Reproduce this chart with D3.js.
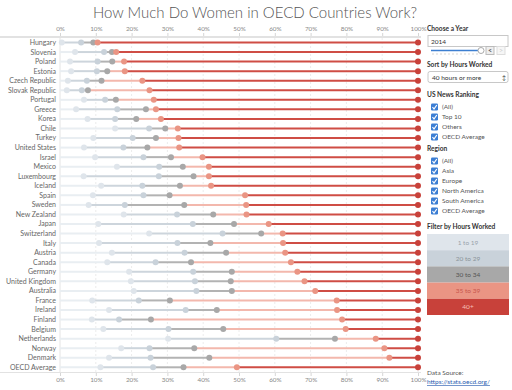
<!DOCTYPE html>
<html lang="en">
<head>
<meta charset="UTF-8">
<title>How Much Do Women in OECD Countries Work?</title>
<style>
  body { margin: 0; background: #fff; }
  svg { display: block; font-family: "Lato", "Open Sans", sans-serif; }
</style>
</head>
<body>
<div id="chart"></div>
<script src="https://d3js.org/d3.v7.min.js"></script>
<script>
// countries, top to bottom (sorted by share working 40 hours or more)
const countries = ["Hungary", "Slovenia", "Poland", "Estonia", "Czech Republic", "Slovak Republic",
  "Portugal", "Greece", "Korea", "Chile", "Turkey", "United States", "Israel", "Mexico",
  "Luxembourg", "Iceland", "Spain", "Sweden", "New Zealand", "Japan", "Switzerland", "Italy",
  "Austria", "Canada", "Germany", "United Kingdom", "Australia", "France", "Ireland", "Finland",
  "Belgium", "Netherlands", "Norway", "Denmark", "OECD Average"];

// cumulative share of working women (%), by usual weekly hours
const upTo19 = [0.5, 4.2, 2.8, 3.1, 2.2, 1.9, 6.7, 4.5, 7.7, 15.4, 9.3, 6.7, 9.8, 15.9,
  6.6, 11.5, 9.2, 8.0, 17.8, 10.7, 24.9, 10.9, 14.5, 13.2, 19.3, 19.8, 20.6, 9.0, 13.7, 8.9,
  12.1, 30.2, 17.1, 13.7, 11.3];
const upTo29 = [5.9, 12.3, 10.5, 10.3, 7.5, 6.1, 12.6, 16.0, 15.4, 24.9, 20.3, 17.7, 23.3, 27.7,
  27.6, 23.0, 23.3, 18.1, 32.7, 37.1, 45.4, 32.8, 34.8, 26.7, 37.2, 37.7, 38.1, 22.0, 35.1, 16.5,
  30.3, 60.4, 25.0, 25.3, 26.0];
const upTo34 = [9.3, 14.5, 14.6, 13.2, 11.6, 7.8, 15.6, 24.0, 21.3, 29.4, 26.8, 24.4, 31.0, 34.3,
  37.3, 33.5, 30.6, 34.7, 42.8, 48.6, 56.2, 42.0, 46.4, 36.6, 48.0, 47.7, 48.0, 30.7, 43.8, 25.4,
  45.6, 76.8, 37.5, 41.7, 34.5];
const upTo39 = [10.5, 15.7, 17.9, 18.1, 23.0, 25.0, 26.2, 26.8, 28.2, 32.9, 33.1, 33.3, 39.8, 41.6,
  41.6, 42.2, 51.7, 52.0, 52.1, 58.3, 62.2, 62.3, 62.9, 64.5, 66.3, 68.3, 71.3, 77.3, 77.4, 78.8,
  79.8, 88.2, 90.6, 92.0, 49.4];
const allHours = countries.map(() => 100);

const bands = ["1 to 19", "20 to 29", "30 to 34", "35 to 39", "40+"];
const dotColors = ["#dfe5eb", "#c9d2da", "#a8a8a8", "#ea9584", "#c8413a"];
const lineColors = ["#e9eef2", "#cdd5dc", "#b3b3b3", "#f3b8ad", "#cf4d45"];
const bandText = ["#9aa3ab", "#8a9299", "#555555", "#c8564c", "#f6c0b8"];

const xTicks = [0, 10, 20, 30, 40, 50, 60, 70, 80, 90, 100];
const years = ["2014"];
const rankingOpts = ["(All)", "Top 10", "Others", "OECD Average"];
const regionOpts = ["(All)", "Asia", "Europe", "North America", "South America", "OECD Average"];

const W = 512, H = 390;
const svg = d3.select("#chart").append("svg").attr("width", W).attr("height", H);

// title
svg.append("text")
  .attr("x", 255).attr("y", 18)
  .attr("text-anchor", "middle")
  .attr("font-size", 15)
  .attr("font-weight", 300)
  .attr("fill", "#555")
  .text("How Much Do Women in OECD Countries Work?");

// scales
const x = d3.scaleLinear().domain([0, 100]).range([60, 418]);
const y = d3.scalePoint().domain(countries).range([42.5, 367.3]);

// axis band lines
svg.append("line").attr("x1", 0).attr("x2", 421).attr("y1", 37).attr("y2", 37)
  .attr("stroke", "#e2e2e2").attr("stroke-width", 2);
svg.append("line").attr("x1", 0).attr("x2", 421).attr("y1", 372.5).attr("y2", 372.5)
  .attr("stroke", "#e2e2e2").attr("stroke-width", 1);

// gridlines
svg.append("g").selectAll("line").data(xTicks.slice(1)).join("line")
  .attr("x1", d => x(d)).attr("x2", d => x(d))
  .attr("y1", 38).attr("y2", 372)
  .attr("stroke", "#ececec").attr("stroke-dasharray", "2,2");
svg.append("line").attr("x1", x(0)).attr("x2", x(0)).attr("y1", 38).attr("y2", 372)
  .attr("stroke", "#e4e4e4");

// top & bottom axes
const fmt = d => d + "%";
const topAxis = svg.append("g").attr("transform", "translate(0,36)")
  .call(d3.axisTop(x).tickValues(xTicks).tickFormat(fmt).tickSize(3).tickPadding(2));
const botAxis = svg.append("g").attr("transform", "translate(0,373)")
  .call(d3.axisBottom(x).tickValues(xTicks).tickFormat(fmt).tickSize(3).tickPadding(2));
[topAxis, botAxis].forEach(g => {
  g.select(".domain").remove();
  g.selectAll("line").attr("stroke", "#d6d6d6");
  g.selectAll("text").attr("fill", "#888").attr("font-size", 6.3)
    .attr("font-family", "Lato, sans-serif");
});

// country labels
svg.append("g").selectAll("text").data(countries).join("text")
  .attr("x", 56).attr("y", d => y(d))
  .attr("dy", "0.35em")
  .attr("text-anchor", "end")
  .attr("font-size", 7)
  .attr("fill", "#666")
  .text(d => d);

// rows: segments and dots
const cum = [upTo19, upTo29, upTo34, upTo39, allHours];
const rows = countries.map((c, i) => ({ country: c, vals: cum.map(a => a[i]) }));

const rowG = svg.append("g").selectAll("g").data(rows).join("g")
  .attr("transform", d => `translate(0,${y(d.country)})`);

rowG.each(function(d) {
  const g = d3.select(this);
  const segs = d.vals.map((v, k) => ({ from: k === 0 ? 0 : d.vals[k - 1], to: v, k }));
  g.selectAll("line").data(segs).join("line")
    .attr("x1", s => x(s.from)).attr("x2", s => x(s.to))
    .attr("y1", 0).attr("y2", 0)
    .attr("stroke", s => lineColors[s.k])
    .attr("stroke-width", 2);
  g.selectAll("circle").data(segs).join("circle")
    .attr("cx", s => x(s.to)).attr("cy", 0)
    .attr("r", 3)
    .attr("fill", s => dotColors[s.k]);
});

// ---- right-hand controls ----
const px = 427;
const heading = (t, yy) => svg.append("text").attr("x", px).attr("y", yy)
  .attr("font-size", 6.6).attr("font-weight", "bold").attr("fill", "#333").text(t);

heading("Choose a Year", 31);
svg.append("rect").attr("x", px + 1).attr("y", 35.5).attr("width", 80).attr("height", 11)
  .attr("fill", "#fff").attr("stroke", "#c8c8c8");
svg.append("text").attr("x", px + 4).attr("y", 43.5).attr("font-size", 6.5).attr("fill", "#333")
  .text(years[0]);
// slider
svg.append("line").attr("x1", px + 4).attr("x2", px + 53).attr("y1", 50.5).attr("y2", 50.5)
  .attr("stroke", "#3d7fd1").attr("stroke-width", 1.5);
svg.append("g").selectAll("line").data(d3.range(12)).join("line")
  .attr("x1", d => px + 6 + d * 4).attr("x2", d => px + 6 + d * 4)
  .attr("y1", 53).attr("y2", 55).attr("stroke", "#bbb").attr("stroke-width", 0.6);
svg.append("circle").attr("cx", px + 54).attr("cy", 50.5).attr("r", 3)
  .attr("fill", "#fff").attr("stroke", "#aaa");
svg.append("rect").attr("x", px + 59).attr("y", 46.5).attr("width", 8).attr("height", 8)
  .attr("fill", "#eee").attr("stroke", "#bbb");
svg.append("text").attr("x", px + 63).attr("y", 53).attr("text-anchor", "middle")
  .attr("font-size", 7).attr("font-weight", "bold").attr("fill", "#555").text("<");
svg.append("rect").attr("x", px + 70).attr("y", 46.5).attr("width", 8).attr("height", 8)
  .attr("fill", "#f6f6f6").attr("stroke", "#ddd");
svg.append("text").attr("x", px + 74).attr("y", 53).attr("text-anchor", "middle")
  .attr("font-size", 7).attr("fill", "#ccc").text(">");

heading("Sort by Hours Worked", 67);
svg.append("rect").attr("x", px + 1).attr("y", 71.5).attr("width", 80).attr("height", 11)
  .attr("rx", 2).attr("fill", "#fff").attr("stroke", "#c8c8c8");
svg.append("text").attr("x", px + 5).attr("y", 79.5).attr("font-size", 6.5).attr("fill", "#333")
  .text("40 hours or more");
svg.append("text").attr("x", px + 77).attr("y", 79.5).attr("text-anchor", "middle")
  .attr("font-size", 6).attr("fill", "#444").text("\u2195");

function checkList(opts, y0) {
  const g = svg.append("g").selectAll("g").data(opts).join("g")
    .attr("transform", (d, i) => `translate(${px + 4},${y0 + i * 10})`);
  g.append("rect").attr("x", 0).attr("y", -3.5).attr("width", 7).attr("height", 7)
    .attr("rx", 1.2).attr("fill", "#3b7ed4");
  g.append("path").attr("d", "M1.5,0 L3,2 L5.8,-2")
    .attr("fill", "none").attr("stroke", "#fff").attr("stroke-width", 1.2);
  g.append("text").attr("x", 11).attr("dy", "0.35em")
    .attr("font-size", 6.5).attr("fill", "#555").text(d => d);
}

heading("US News Ranking", 97);
checkList(rankingOpts, 107);
heading("Region", 151);
checkList(regionOpts, 161);

heading("Filter by Hours Worked", 229);
const leg = svg.append("g").selectAll("g").data(bands).join("g")
  .attr("transform", (d, i) => `translate(${px},${234 + i * 16.2})`);
leg.append("rect").attr("width", 82).attr("height", 16.2)
  .attr("fill", (d, i) => dotColors[i]);
leg.append("text").attr("x", 41).attr("y", 10.5).attr("text-anchor", "middle")
  .attr("font-size", 6.5).attr("fill", (d, i) => bandText[i]).text(d => d);

svg.append("text").attr("x", px).attr("y", 375).attr("font-size", 6.5).attr("fill", "#555")
  .text("Data Source:");
svg.append("text").attr("x", px).attr("y", 384).attr("font-size", 6.5).attr("fill", "#2a5db0")
  .attr("text-decoration", "underline").text("https://stats.oecd.org/");
</script>
</body>
</html>
